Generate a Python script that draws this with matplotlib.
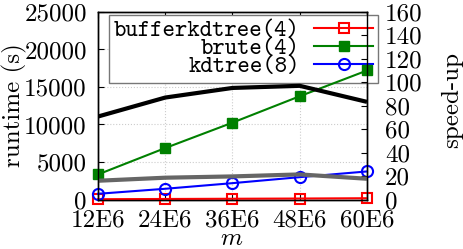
import matplotlib
matplotlib.use("Agg")
import matplotlib.pyplot as plt

m_labels = ["12E6", "24E6", "36E6", "48E6", "60E6"]
m_values = [12, 24, 36, 48, 60]

bufferkdtree4 = [40, 70, 100, 130, 170]
brute4 = [3340, 6860, 10250, 13770, 17200]
kdtree8 = [760, 1430, 2180, 2980, 3740]

speedup_brute = [70.8, 87.0, 95.2, 97.0, 83.3]
speedup_kdtree = [16.0, 18.6, 19.7, 21.4, 17.7]

runtime_ticks = [0, 5000, 10000, 15000, 20000, 25000]
speedup_ticks = [0, 20, 40, 60, 80, 100, 120, 140, 160]

plt.rcParams['mathtext.fontset'] = 'cm'
plt.rcParams['font.family'] = ['cmr10', 'DejaVu Serif']
plt.rcParams['axes.unicode_minus'] = False

W, H = 463, 249
fig = plt.figure(figsize=(W / 100, H / 100), dpi=100)
ax1 = fig.add_axes([98 / W, 1 - 199.5 / H, (367 - 98) / W, (199.5 - 12) / H])
ax2 = ax1.twinx()

fs = 18
ax1.plot(m_values, bufferkdtree4, color='red', lw=1.5, marker='s', ms=7,
         mfc='none', mec='red', mew=1.5, clip_on=False, zorder=6, label='bufferkdtree(4)')
ax1.plot(m_values, brute4, color='green', lw=1.5, marker='s', ms=7,
         mfc='green', mec='green', clip_on=False, zorder=6, label='brute(4)')
ax1.plot(m_values, kdtree8, color='blue', lw=1.5, marker='o', ms=8,
         mfc='none', mec='blue', mew=1.5, clip_on=False, zorder=6, label='kdtree(8)')

ax2.plot(m_values, speedup_brute, color='black', lw=3, solid_capstyle='butt', zorder=2)
ax2.plot(m_values, speedup_kdtree, color='#666666', lw=3, solid_capstyle='butt', zorder=2)

ax1.set_xlim(12, 60)
ax1.set_ylim(0, 25000)
ax2.set_ylim(0, 160)
ax1.set_xticks(m_values)
ax1.set_xticklabels(m_labels, fontsize=fs)
ax1.set_yticks(runtime_ticks)
ax1.set_yticklabels([str(t) for t in runtime_ticks], fontsize=fs)
ax2.set_yticks(speedup_ticks)
ax2.set_yticklabels([str(t) for t in speedup_ticks], fontsize=fs)

ax1.tick_params(axis='x', direction='in', length=4, width=0.8, pad=7, top=True)
ax1.tick_params(axis='y', direction='in', length=4, width=0.8, pad=8)
ax2.tick_params(direction='in', length=4, width=0.8, pad=13)
ax1.grid(True, color='#cccccc', linestyle=':', linewidth=0.8)
ax1.set_axisbelow(True)

for ax in (ax1, ax2):
    for s in ax.spines.values():
        s.set_linewidth(1.0)

fig.text(232 / W, 1 - 239 / H, '$m$', fontsize=fs, ha='center', va='center')
fig.text(14 / W, 1 - 105 / H, 'runtime (s)', fontsize=fs, ha='center', va='center', rotation=90)
fig.text(452 / W, 1 - 100 / H, 'speed-up', fontsize=fs, ha='center', va='center', rotation=90)

leg = ax1.legend(loc='upper right',
                 bbox_to_anchor=(378 / W, 1 - 15 / H), bbox_transform=fig.transFigure,
                 borderaxespad=0, markerfirst=False, fancybox=False,
                 prop={'family': ['cmtt10', 'DejaVu Sans Mono'], 'size': 17},
                 handlelength=2.5, handletextpad=0.6, borderpad=0.2,
                 labelspacing=-0.2, framealpha=1, facecolor='white', edgecolor='#777777')
leg.get_frame().set_linewidth(1.0)
for t in leg.get_texts():
    t.set_ha('right')
leg.set_zorder(5)

fig.savefig('out.png', dpi=100)
